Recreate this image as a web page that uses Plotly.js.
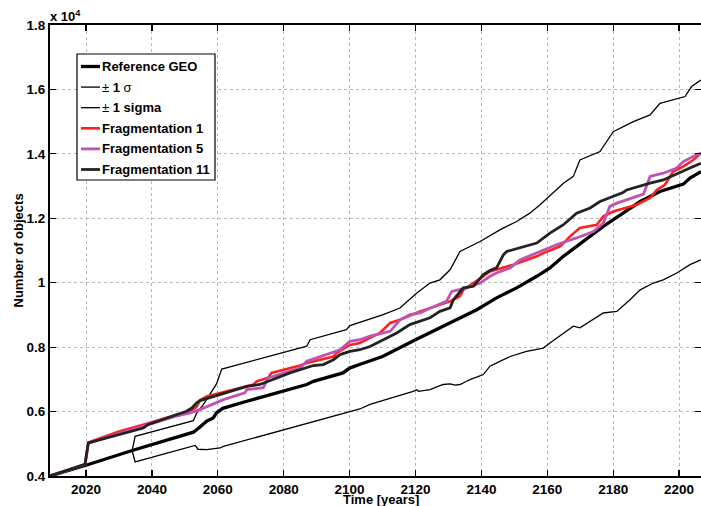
<!DOCTYPE html>
<html>
<head>
<meta charset="utf-8">
<script src="https://cdn.plot.ly/plotly-3.0.1.min.js"></script>
<style>
  html, body { margin: 0; padding: 0; background: #ffffff; }
  #chart { width: 701px; height: 506px; }
</style>
</head>
<body>
<div id="chart"></div>
<script>
// Number of objects in the GEO region over time, reference run versus fragmentation scenarios.

const refYears = [2009, 2020, 2034, 2052.6, 2054.6, 2056.6, 2058.6, 2059.6, 2061.5, 2068.8, 2087, 2089, 2098, 2100, 2103,
  2110, 2120, 2130.5, 2133.5, 2138.6, 2144.6, 2150.7, 2156.8, 2160.8, 2164.9, 2170.9, 2177, 2183, 2188.2, 2194.2,
  2201.3, 2203.3, 2206.6];
const refCounts = [4000, 4335, 4790, 5360, 5520, 5700, 5800, 5960, 6100, 6320, 6840, 6940, 7200, 7350, 7460,
  7710, 8230, 8750, 8910, 9160, 9530, 9840, 10200, 10460, 10820, 11280, 11750, 12160, 12520, 12830,
  13060, 13250, 13450];

const upperYears = [2009, 2020, 2034, 2034.9, 2052.6, 2053.6, 2055.5, 2057.1, 2058.1, 2059.6, 2061.2, 2083.9, 2087, 2088,
  2099, 2100.1, 2103.2, 2110.2, 2115.3, 2120.4, 2124.4, 2127.4, 2130.5, 2133.5, 2139.6, 2145.6, 2150.7, 2154.7,
  2157.8, 2160.8, 2164.9, 2167.9, 2169.9, 2176, 2180, 2186.1, 2191.2, 2194.2, 2201.8, 2203.8, 2206.6];
const upperCounts = [4000, 4335, 4790, 5230, 5720, 5960, 6200, 6470, 6650, 6860, 7320, 7950, 8030, 8230,
  8540, 8670, 8770, 9010, 9215, 9680, 9990, 10090, 10400, 10970, 11280, 11640, 11900, 12160,
  12420, 12700, 13090, 13300, 13810, 14070, 14690, 15000, 15210, 15570, 15780, 16090, 16290];

const lowerYears = [2009, 2020, 2034, 2034.9, 2053.1, 2054, 2056.6, 2060.7, 2061.7, 2100, 2103.1, 2106.2, 2109.2, 2119.3,
  2120.4, 2120.9, 2124.4, 2128.4, 2130.5, 2132, 2133.5, 2135.5, 2136.5, 2140.6, 2142.6, 2145.6, 2148.7, 2153.7,
  2158.8, 2160.8, 2164.9, 2167.9, 2169.9, 2173, 2177, 2181.1, 2185.1, 2188.2, 2192.2, 2195.2, 2199.3, 2203.3, 2206.6];
const lowerCounts = [4000, 4335, 4790, 4440, 4950, 4830, 4820, 4870, 4920, 5990, 6080, 6220, 6320, 6630,
  6680, 6630, 6680, 6840, 6860, 6820, 6840, 6940, 6990, 7150, 7410, 7560, 7710, 7870,
  7970, 8130, 8440, 8650, 8600, 8800, 9060, 9110, 9470, 9780, 9990, 10090, 10300, 10560, 10710];

const frag1Years = [2009, 2019.7, 2020.7, 2030, 2038.4, 2047.5, 2051.6, 2053.6, 2054.6, 2056.6, 2070.8, 2071.8, 2075.3,
  2076.3, 2085, 2087, 2095.1, 2096.1, 2100.1, 2103.1, 2106.2, 2109.2, 2112.3, 2115.3, 2121.4, 2124.4, 2130.5, 2133.5,
  2134.5, 2140.6, 2142.6, 2149.7, 2156.8, 2158.8, 2163.9, 2165.9, 2166.9, 2169.9, 2175, 2177, 2180, 2187.1, 2191.2,
  2193.2, 2195.7, 2198.2, 2201.3, 2204.3, 2206.6];
const frag1Counts = [4000, 4360, 5040, 5380, 5620, 5900, 6000, 6150, 6350, 6470, 6840, 6940, 7050,
  7200, 7430, 7510, 7710, 7820, 8070, 8130, 8290, 8440, 8750, 8850, 9110, 9220, 9420, 9580,
  9780, 10200, 10350, 10560, 10820, 10920, 11130, 11330, 11440, 11700, 11800, 12060, 12210, 12420, 12630,
  12880, 13040, 13450, 13610, 13810, 14020];

const frag5Years = [2009, 2019.7, 2020.7, 2038, 2047, 2051.6, 2054.6, 2061.7, 2066.7, 2068.2, 2068.8, 2073.8, 2075.3,
  2076.8, 2085, 2087, 2097.1, 2099.1, 2100.1, 2103.1, 2106.2, 2112.3, 2115.3, 2118.3, 2121.4, 2123.4, 2127.4, 2129.4,
  2131, 2135.5, 2139.6, 2142.6, 2144.6, 2148.7, 2151.7, 2156.8, 2162.8, 2168.9, 2174, 2177, 2179, 2181.1, 2189.2,
  2191.2, 2195.2, 2199.3, 2201.3, 2205.3, 2206.6];
const frag5Counts = [4000, 4360, 5020, 5560, 5850, 5960, 6060, 6370, 6530, 6580, 6680, 6740, 7050,
  7090, 7350, 7560, 7920, 8080, 8180, 8230, 8340, 8490, 8850, 9010, 9060, 9160, 9320, 9420,
  9730, 9840, 9990, 10200, 10300, 10460, 10710, 10920, 11180, 11390, 11590, 11850, 12370, 12470, 12750,
  13300, 13400, 13560, 13760, 13970, 14020];

const frag11Years = [2009, 2019.7, 2020.7, 2037.4, 2038.9, 2047.5, 2050.5, 2052.1, 2053.6, 2054.6, 2055.6, 2068.8, 2072.8,
  2081.9, 2089, 2092, 2095.1, 2097.1, 2100.1, 2103.1, 2106.2, 2110.2, 2114.3, 2118.3, 2124.4, 2127.4, 2130.5, 2131.5,
  2134.5, 2137.6, 2140.6, 2142.6, 2144.6, 2146.7, 2147.7, 2156.8, 2160.8, 2164.9, 2168.9, 2173, 2176, 2183, 2184.1,
  2191.2, 2195.2, 2203.3, 2206.6];
const frag11Counts = [4000, 4360, 5030, 5490, 5600, 5910, 6010, 6110, 6270, 6340, 6370, 6780, 6840,
  7200, 7430, 7460, 7610, 7770, 7870, 7920, 8020, 8230, 8440, 8700, 8910, 9110, 9220, 9470,
  9840, 9890, 10250, 10380, 10460, 10870, 10970, 11230, 11540, 11800, 12160, 12320, 12520, 12800, 12880,
  13090, 13190, 13560, 13710];

const seriesNames = ['Reference GEO', '± 1 σ', '± 1 sigma', 'Fragmentation 1', 'Fragmentation 5', 'Fragmentation 11'];
const legendLabels = ['Reference GEO', '<span style="font-weight:normal">±</span> 1 <span style="font-weight:normal">σ</span>',
  '<span style="font-weight:normal">±</span> 1 sigma', 'Fragmentation 1', 'Fragmentation 5', 'Fragmentation 11'];

const yTickVals = [4000, 6000, 8000, 10000, 12000, 14000, 16000, 18000];
const yTickText = ['0.4', '0.6', '0.8', '1', '1.2', '1.4', '1.6', '1.8'];
const xTickVals = [2020, 2040, 2060, 2080, 2100, 2120, 2140, 2160, 2180, 2200];

// line styling per series (same order as seriesNames)
const lineColors = ['#000000', '#000000', '#000000', '#ff1f1f', '#c152b4', '#222222'];
const lineWidths = [3.3, 1.3, 1.3, 2.6, 2.8, 2.8];

const seriesX = [refYears, upperYears, lowerYears, frag1Years, frag5Years, frag11Years];
const seriesY = [refCounts, upperCounts, lowerCounts, frag1Counts, frag5Counts, frag11Counts];

const traces = seriesNames.map((name, i) => ({
  type: 'scatter',
  mode: 'lines',
  name: name,
  x: seriesX[i],
  y: seriesY[i],
  line: { color: lineColors[i], width: lineWidths[i] },
  showlegend: false,
  hoverinfo: 'skip'
}));

// geometry of the plotting area in page pixels
const W = 701, H = 506;
const M = { l: 50, r: 0, t: 25, b: 30 };
const pw = W - M.l - M.r, ph = H - M.t - M.b;
const px2x = px => (px - M.l) / pw;
const py2y = py => (H - M.b - py) / ph;

const font = { family: 'Liberation Sans, Arial, Helvetica, sans-serif', size: 13, color: '#000', weight: 'bold' };

const shapes = [];
const annotations = [];

// boxed legend in the upper left corner
const box = { x0: 77, x1: 215, y0: 54, y1: 180 };
shapes.push({
  type: 'rect', xref: 'paper', yref: 'paper',
  x0: px2x(box.x0), x1: px2x(box.x1), y0: py2y(box.y1), y1: py2y(box.y0),
  line: { color: '#000', width: 1.2 }, fillcolor: '#ffffff', layer: 'above'
});
const rowStart = 66.5, rowStep = 20.6;
seriesNames.forEach((name, i) => {
  const cy = rowStart + i * rowStep;
  shapes.push({
    type: 'line', xref: 'paper', yref: 'paper',
    x0: px2x(81), x1: px2x(100), y0: py2y(cy), y1: py2y(cy),
    line: { color: lineColors[i], width: lineWidths[i] }, layer: 'above'
  });
  annotations.push({
    xref: 'paper', yref: 'paper', x: px2x(101), y: py2y(cy),
    xanchor: 'left', yanchor: 'middle', showarrow: false,
    text: legendLabels[i], font: font, borderpad: 0
  });
});

// axis titles and the power-of-ten multiplier
annotations.push({
  xref: 'paper', yref: 'paper', x: px2x(380.5), y: py2y(499.5),
  xanchor: 'center', yanchor: 'middle', showarrow: false,
  text: 'Time [years]', font: font, borderpad: 0
});
annotations.push({
  xref: 'paper', yref: 'paper', x: px2x(18), y: 0.5,
  xanchor: 'center', yanchor: 'middle', showarrow: false, textangle: -90,
  text: 'Number of objects', font: font
});
annotations.push({
  xref: 'paper', yref: 'paper', x: px2x(49), y: 1,
  xanchor: 'left', yanchor: 'bottom', showarrow: false,
  text: 'x 10<sup>4</sup>', font: font, borderpad: 0
});

const layout = {
  width: W, height: H,
  margin: M,
  paper_bgcolor: '#ffffff', plot_bgcolor: '#ffffff',
  showlegend: false,
  font: font,
  xaxis: {
    range: [2009.07, 2206.65],
    tickmode: 'array', tickvals: xTickVals,
    ticks: 'inside', ticklen: 6, tickwidth: 1.2, tickcolor: '#000',
    showline: true, linecolor: '#000', linewidth: 2, mirror: 'ticks',
    showgrid: true, gridcolor: '#b8b8b8', griddash: 'dot', gridwidth: 1,
    zeroline: false,
    tickfont: { family: font.family, size: 13.5, color: '#000', weight: 'bold' }
  },
  yaxis: {
    range: [4000, 18000],
    tickmode: 'array', tickvals: yTickVals, ticktext: yTickText,
    ticks: 'inside', ticklen: 6, tickwidth: 1.2, tickcolor: '#000',
    showline: true, linecolor: '#000', linewidth: 2, mirror: 'ticks',
    showgrid: true, gridcolor: '#b8b8b8', griddash: 'dot', gridwidth: 1,
    zeroline: false,
    tickfont: { family: font.family, size: 13.5, color: '#000', weight: 'bold' }
  },
  shapes: shapes,
  annotations: annotations
};

Plotly.newPlot('chart', traces, layout, { staticPlot: true, displayModeBar: false });
</script>
</body>
</html>
